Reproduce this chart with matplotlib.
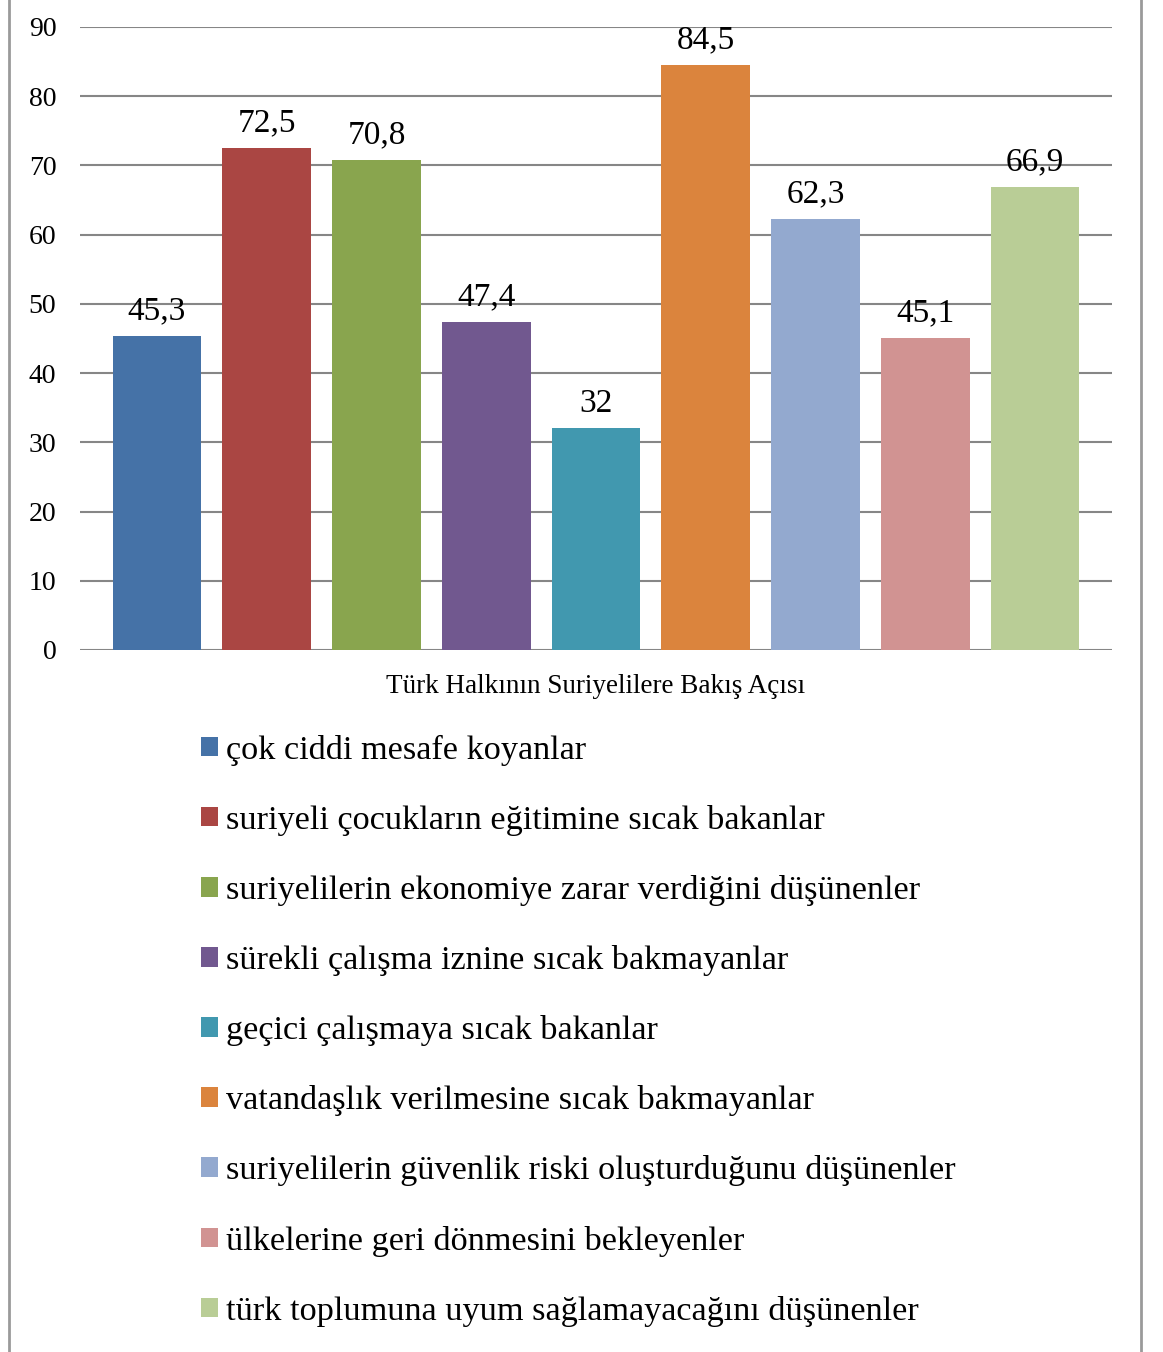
import matplotlib
matplotlib.use("Agg")
import matplotlib.pyplot as plt
from matplotlib.lines import Line2D
import numpy as np

# data
categories = [
    "çok ciddi mesafe koyanlar",
    "suriyeli çocukların eğitimine sıcak bakanlar",
    "suriyelilerin ekonomiye zarar verdiğini düşünenler",
    "sürekli çalışma iznine sıcak bakmayanlar",
    "geçici çalışmaya sıcak bakanlar",
    "vatandaşlık verilmesine sıcak bakmayanlar",
    "suriyelilerin güvenlik riski oluşturduğunu düşünenler",
    "ülkelerine geri dönmesini bekleyenler",
    "türk toplumuna uyum sağlamayacağını düşünenler",
]
values = [45.3, 72.5, 70.8, 47.4, 32, 84.5, 62.3, 45.1, 66.9]
value_labels = ["45,3", "72,5", "70,8", "47,4", "32", "84,5", "62,3", "45,1", "66,9"]
colors = ["#4572A7", "#AA4643", "#89A54E", "#71588F", "#4198AF",
          "#DB843D", "#93A9CF", "#D19392", "#B9CD96"]
yticks = [0, 10, 20, 30, 40, 50, 60, 70, 80, 90]
axis_title = "Türk Halkının Suriyelilere Bakış Açısı"

plt.rcParams['font.family'] = ['Liberation Serif', 'DejaVu Serif']

fig = plt.figure(figsize=(11.63, 13.52), dpi=100)
ax = fig.add_axes([80 / 1163, 702 / 1352, 1032 / 1163, 623 / 1352])

x = np.arange(len(values))
bars = []
for i, (v, c, lab) in enumerate(zip(values, colors, categories)):
    b = ax.bar(x[i], v, width=0.81, color=c, label=lab, zorder=2)
    ax.bar_label(b, labels=[value_labels[i]], padding=7, fontsize=24, zorder=3)
    bars.append(b)

ax.set_xlim(-0.7015, 8.7015)
ax.set_ylim(0, 90)
ax.set_yticks(yticks)
ax.set_xticks([])
ax.grid(axis='y', color='#868686', linewidth=1.5, zorder=1)
ax.set_axisbelow(True)
for s in ax.spines.values():
    s.set_visible(False)
ax.tick_params(axis='y', length=0, pad=17, labelsize=20)
ax.set_xlabel(axis_title, fontsize=19.5, labelpad=17)

fig.legend(handles=[b[0] for b in bars], labels=categories,
           loc='upper left', bbox_to_anchor=(187 / 1163, 1 - 721 / 1352),
           frameon=False, fontsize=24.7, handlelength=0.5, handleheight=0.5,
           handletextpad=0.25, labelspacing=1.14, borderaxespad=0)

# outer frame lines
fig.add_artist(Line2D([9 / 1163, 9 / 1163], [0, 1], color='#9a9a9a', linewidth=2))
fig.add_artist(Line2D([1141 / 1163, 1141 / 1163], [0, 1], color='#9a9a9a', linewidth=2))

fig.savefig("out.png", dpi=100)
